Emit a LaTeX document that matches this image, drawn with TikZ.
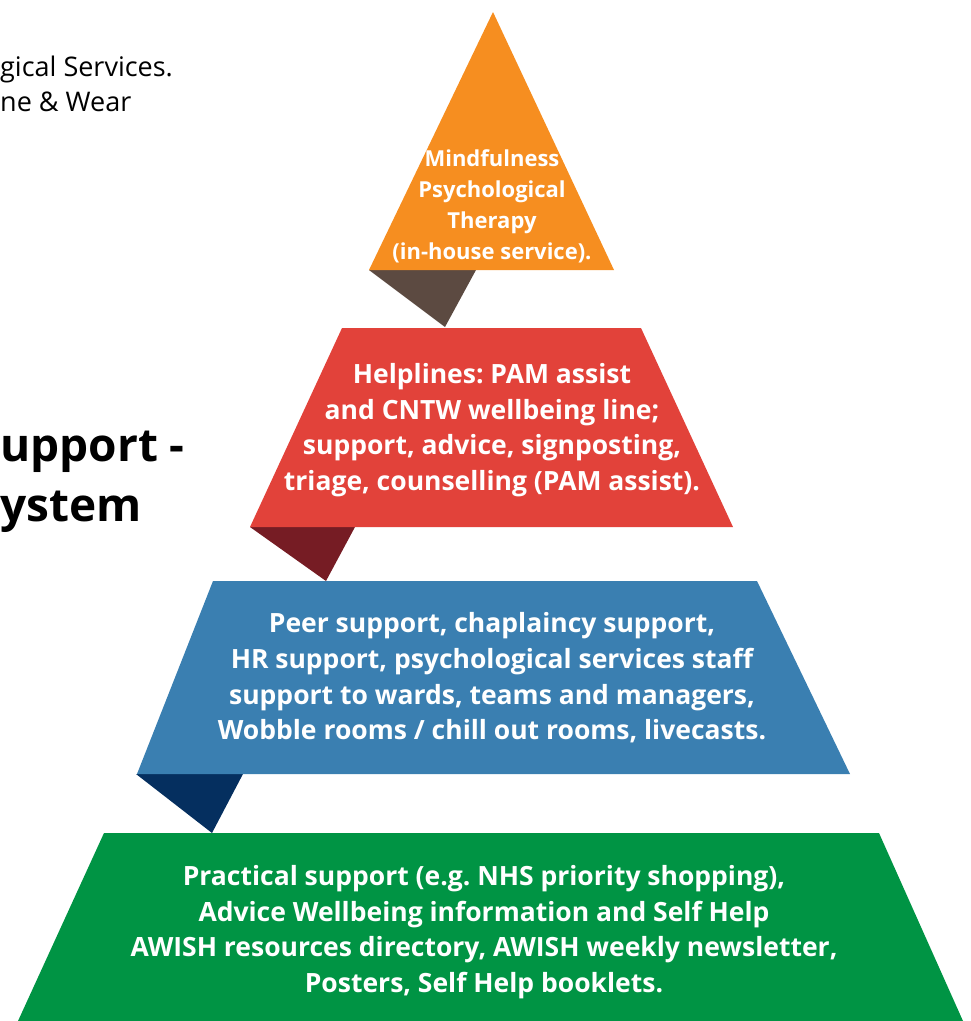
\documentclass[tikz,border=0pt]{standalone}
\usepackage{fontspec}
\setmainfont{Open Sans}
\frenchspacing

\definecolor{toporange}{HTML}{F68E20}
\definecolor{topfold}{HTML}{5C4A41}
\definecolor{helpred}{HTML}{E2423A}
\definecolor{helpfold}{HTML}{761C24}
\definecolor{peerblue}{HTML}{3A7FB1}
\definecolor{peerfold}{HTML}{052F5F}
\definecolor{basegreen}{HTML}{009444}

\begin{document}
\begin{tikzpicture}[
  x=1pt, y=-1pt,
  every node/.style={align=center, text=white, inner sep=0pt},
  level/.style={font=\bfseries\fontsize{26.5}{35.7}\selectfont},
  side/.style={text=black, anchor=west, font=\fontsize{27}{33}\selectfont},
  head/.style={text=black, anchor=west, font=\bfseries\fontsize{46}{60}\selectfont}
  ]

  \useasboundingbox (0,0) rectangle (971,1021);

  % Folds under each level
  \fill[topfold] (369,270) -- (476,270) -- (445,327) -- cycle;
  \fill[helpfold] (250,527) -- (355,527) -- (326,581) -- cycle;
  \fill[peerfold] (136,774) -- (243,774) -- (212,833) -- cycle;

  % Levels
  \fill[toporange] (493,12) -- (614,270) -- (369,270) -- cycle;
  \fill[helpred] (342,328) -- (641,328) -- (733,527) -- (250,527) -- cycle;
  \fill[peerblue] (213,581) -- (757,581) -- (850,774) -- (137,774) -- cycle;
  \fill[basegreen] (104,833) -- (879,833) -- (963,1021) -- (18,1021) -- cycle;

  % Define nodes
  \node[level, font=\bfseries\fontsize{22}{31}\selectfont] (mind) at (492,206)
    {Mindfulness\\Psychological\\Therapy\\(in-house service).};
  \node[level] (help) at (492,430)
    {Helplines: PAM assist\\and CNTW wellbeing line;\\support, advice, signposting,\\triage, counselling (PAM assist).};
  \node[level] (peer) at (492,678)
    {Peer support, chaplaincy support,\\HR support, psychological services staff\\support to wards, teams and managers,\\Wobble rooms / chill out rooms, livecasts.};
  \node[level] (prac) at (484,932)
    {Practical support (e.g. NHS priority shopping),\\Advice Wellbeing information and Self Help\\AWISH resources directory, AWISH weekly newsletter,\\Posters, Self Help booklets.};

  % Cut-off text on the left
  \node[side] (serv) at (0,69) {gical Services.};
  \node[side] (wear) at (0,102) {ne \& Wear};
  \node[head] (supp) at (0,452) {upport -};
  \node[head] (syst) at (0,512) {ystem};

\end{tikzpicture}
\end{document}
